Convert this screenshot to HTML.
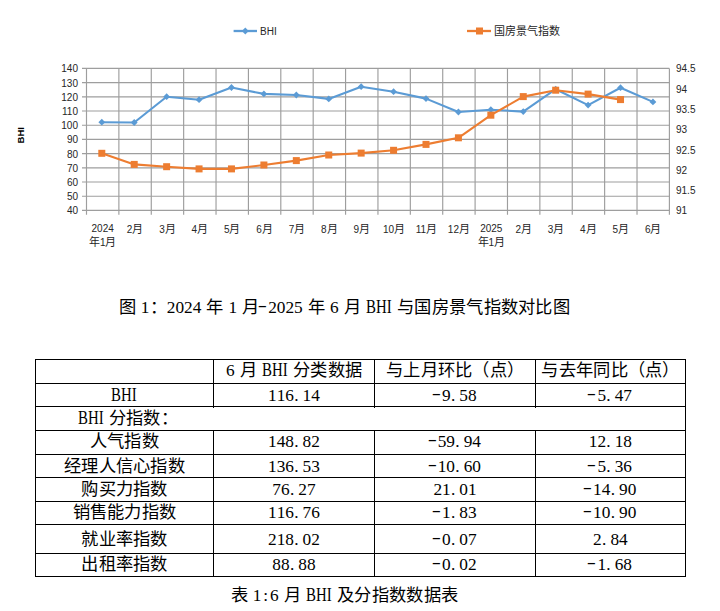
<!DOCTYPE html>
<html lang="zh-CN"><head><meta charset="utf-8">
<style>
html,body{margin:0;padding:0;background:#fff;}
body{width:720px;height:611px;position:relative;overflow:hidden;}
.al,.ar,.xl,.lg,.yt{position:absolute;font-family:"Liberation Sans",sans-serif;font-size:10px;color:#262626;line-height:12.5px;white-space:nowrap;}
.al{left:40px;width:38px;text-align:right;margin-top:1px;}
u{text-decoration:none;font-size:11px;}
.ar{left:676px;margin-top:1px;}
.xl{top:223px;width:50px;text-align:center;}
.lg{top:25px;}
.yt{font-weight:bold;color:#000;left:6px;top:129px;font-size:9.5px;width:30px;text-align:center;transform:rotate(-90deg);}
.title{position:absolute;left:118.5px;top:297.5px;font-family:"Liberation Serif",serif;font-size:17.3px;line-height:20px;white-space:nowrap;color:#000;}
.hl{position:absolute;left:35px;width:651px;height:1px;background:#000;}
.vl{position:absolute;width:1px;background:#000;}
.tc{position:absolute;text-align:center;font-family:"Liberation Serif",serif;font-size:17.3px;white-space:nowrap;color:#000;}
i{display:inline-block;font-style:normal;text-align:center;vertical-align:top;}
.z{font-weight:300;}
.w{display:inline-flex;justify-content:center;}
.w b{font-weight:normal;transform:scale(0.86,1.1);transform-origin:50% 68%;display:inline-block;}
.p{text-align:left;padding-left:0.3px;box-sizing:border-box;}
.h b{font-weight:normal;display:inline-block;transform:translate(-1.5px,-2px) scaleX(1.6);}
.d{}
.cap{position:absolute;left:230.5px;top:586px;font-family:"Liberation Serif",serif;font-size:17.3px;line-height:20px;white-space:nowrap;color:#000;}
</style></head><body>
<svg width="720" height="260" viewBox="0 0 720 260" style="position:absolute;left:0;top:0">
<path d="M82 68.40H669.40 M82 82.60H669.40 M82 96.80H669.40 M82 111.00H669.40 M82 125.20H669.40 M82 139.40H669.40 M82 153.60H669.40 M82 167.80H669.40 M82 182.00H669.40 M82 196.20H669.40 M82 210.40H669.40 M86.50 68.40V214.8 M118.88 68.40V214.8 M151.27 68.40V214.8 M183.65 68.40V214.8 M216.03 68.40V214.8 M248.42 68.40V214.8 M280.80 68.40V214.8 M313.18 68.40V214.8 M345.57 68.40V214.8 M377.95 68.40V214.8 M410.33 68.40V214.8 M442.72 68.40V214.8 M475.10 68.40V214.8 M507.48 68.40V214.8 M539.87 68.40V214.8 M572.25 68.40V214.8 M604.63 68.40V214.8 M637.02 68.40V214.8 M669.40 68.40V214.8" stroke="#9e9e9e" stroke-width="1.15" fill="none"/>
<polyline points="101.80,122.20 134.22,122.50 166.64,96.70 199.06,99.70 231.48,87.50 263.90,93.90 296.32,95.00 328.74,98.90 361.16,86.70 393.58,91.70 426.00,98.60 458.42,112.00 490.84,109.70 523.26,111.60 555.68,89.20 588.10,105.10 620.52,87.70 652.94,101.90" stroke="#5b9bd5" stroke-width="2.1" fill="none" stroke-linejoin="round" stroke-linecap="round"/>
<polyline points="101.80,153.30 134.22,164.40 166.64,166.70 199.06,168.90 231.48,168.90 263.90,165.00 296.32,160.60 328.74,155.00 361.16,153.10 393.58,150.30 426.00,144.40 458.42,137.80 490.84,115.20 523.26,96.60 555.68,90.20 588.10,94.10 620.52,99.60" stroke="#ed7d31" stroke-width="2.1" fill="none" stroke-linejoin="round" stroke-linecap="round"/>
<path d="M101.80 118.80L105.20 122.20L101.80 125.60L98.40 122.20Z" fill="#5b9bd5"/>
<path d="M134.22 119.10L137.62 122.50L134.22 125.90L130.82 122.50Z" fill="#5b9bd5"/>
<path d="M166.64 93.30L170.04 96.70L166.64 100.10L163.24 96.70Z" fill="#5b9bd5"/>
<path d="M199.06 96.30L202.46 99.70L199.06 103.10L195.66 99.70Z" fill="#5b9bd5"/>
<path d="M231.48 84.10L234.88 87.50L231.48 90.90L228.08 87.50Z" fill="#5b9bd5"/>
<path d="M263.90 90.50L267.30 93.90L263.90 97.30L260.50 93.90Z" fill="#5b9bd5"/>
<path d="M296.32 91.60L299.72 95.00L296.32 98.40L292.92 95.00Z" fill="#5b9bd5"/>
<path d="M328.74 95.50L332.14 98.90L328.74 102.30L325.34 98.90Z" fill="#5b9bd5"/>
<path d="M361.16 83.30L364.56 86.70L361.16 90.10L357.76 86.70Z" fill="#5b9bd5"/>
<path d="M393.58 88.30L396.98 91.70L393.58 95.10L390.18 91.70Z" fill="#5b9bd5"/>
<path d="M426.00 95.20L429.40 98.60L426.00 102.00L422.60 98.60Z" fill="#5b9bd5"/>
<path d="M458.42 108.60L461.82 112.00L458.42 115.40L455.02 112.00Z" fill="#5b9bd5"/>
<path d="M490.84 106.30L494.24 109.70L490.84 113.10L487.44 109.70Z" fill="#5b9bd5"/>
<path d="M523.26 108.20L526.66 111.60L523.26 115.00L519.86 111.60Z" fill="#5b9bd5"/>
<path d="M555.68 85.80L559.08 89.20L555.68 92.60L552.28 89.20Z" fill="#5b9bd5"/>
<path d="M588.10 101.70L591.50 105.10L588.10 108.50L584.70 105.10Z" fill="#5b9bd5"/>
<path d="M620.52 84.30L623.92 87.70L620.52 91.10L617.12 87.70Z" fill="#5b9bd5"/>
<path d="M652.94 98.50L656.34 101.90L652.94 105.30L649.54 101.90Z" fill="#5b9bd5"/>
<rect x="98.30" y="149.80" width="7.00" height="7.00" fill="#ed7d31"/>
<rect x="130.72" y="160.90" width="7.00" height="7.00" fill="#ed7d31"/>
<rect x="163.14" y="163.20" width="7.00" height="7.00" fill="#ed7d31"/>
<rect x="195.56" y="165.40" width="7.00" height="7.00" fill="#ed7d31"/>
<rect x="227.98" y="165.40" width="7.00" height="7.00" fill="#ed7d31"/>
<rect x="260.40" y="161.50" width="7.00" height="7.00" fill="#ed7d31"/>
<rect x="292.82" y="157.10" width="7.00" height="7.00" fill="#ed7d31"/>
<rect x="325.24" y="151.50" width="7.00" height="7.00" fill="#ed7d31"/>
<rect x="357.66" y="149.60" width="7.00" height="7.00" fill="#ed7d31"/>
<rect x="390.08" y="146.80" width="7.00" height="7.00" fill="#ed7d31"/>
<rect x="422.50" y="140.90" width="7.00" height="7.00" fill="#ed7d31"/>
<rect x="454.92" y="134.30" width="7.00" height="7.00" fill="#ed7d31"/>
<rect x="487.34" y="111.70" width="7.00" height="7.00" fill="#ed7d31"/>
<rect x="519.76" y="93.10" width="7.00" height="7.00" fill="#ed7d31"/>
<rect x="552.18" y="86.70" width="7.00" height="7.00" fill="#ed7d31"/>
<rect x="584.60" y="90.60" width="7.00" height="7.00" fill="#ed7d31"/>
<rect x="617.02" y="96.10" width="7.00" height="7.00" fill="#ed7d31"/>
<path d="M233.6 31H257" stroke="#5b9bd5" stroke-width="2.3"/>
<path d="M245.3 27.6L248.70000000000002 31L245.3 34.4L241.9 31Z" fill="#5b9bd5"/>
<path d="M467 31H491" stroke="#ed7d31" stroke-width="2.3"/>
<rect x="476.0" y="27.5" width="7.0" height="7.0" fill="#ed7d31"/>
</svg>
<div class="lg" style="left:260px;top:26px">BHI</div>
<div class="lg" style="left:493.5px;font-size:11px;top:24.5px">国房景气指数</div>
<div class="yt">BHI</div>
<div class="al" style="top:62.4px">140</div>
<div class="al" style="top:76.6px">130</div>
<div class="al" style="top:90.8px">120</div>
<div class="al" style="top:105.0px">110</div>
<div class="al" style="top:119.2px">100</div>
<div class="al" style="top:133.4px">90</div>
<div class="al" style="top:147.6px">80</div>
<div class="al" style="top:161.8px">70</div>
<div class="al" style="top:176.0px">60</div>
<div class="al" style="top:190.2px">50</div>
<div class="al" style="top:204.4px">40</div>
<div class="ar" style="top:62.4px">94.5</div>
<div class="ar" style="top:82.7px">94</div>
<div class="ar" style="top:103.0px">93.5</div>
<div class="ar" style="top:123.3px">93</div>
<div class="ar" style="top:143.5px">92.5</div>
<div class="ar" style="top:163.8px">92</div>
<div class="ar" style="top:184.1px">91.5</div>
<div class="ar" style="top:204.4px">91</div>
<div class="xl" style="left:77.7px">2024<br><u>年</u>1<u>月</u></div>
<div class="xl" style="left:110.1px">2<u>月</u></div>
<div class="xl" style="left:142.5px">3<u>月</u></div>
<div class="xl" style="left:174.8px">4<u>月</u></div>
<div class="xl" style="left:207.2px">5<u>月</u></div>
<div class="xl" style="left:239.6px">6<u>月</u></div>
<div class="xl" style="left:272.0px">7<u>月</u></div>
<div class="xl" style="left:304.4px">8<u>月</u></div>
<div class="xl" style="left:336.8px">9<u>月</u></div>
<div class="xl" style="left:369.1px">10<u>月</u></div>
<div class="xl" style="left:401.5px">11<u>月</u></div>
<div class="xl" style="left:433.9px">12<u>月</u></div>
<div class="xl" style="left:466.3px">2025<br><u>年</u>1<u>月</u></div>
<div class="xl" style="left:498.7px">2<u>月</u></div>
<div class="xl" style="left:531.1px">3<u>月</u></div>
<div class="xl" style="left:563.4px">4<u>月</u></div>
<div class="xl" style="left:595.8px">5<u>月</u></div>
<div class="xl" style="left:628.2px">6<u>月</u></div>
<div class="title"><i class="z" style="width:17.30px">图</i><i style="width:5.0px"></i><i class="d" style="width:8.65px">1</i><i class="z" style="width:17.30px">：</i><i class="d" style="width:8.65px">2</i><i class="d" style="width:8.65px">0</i><i class="d" style="width:8.65px">2</i><i class="d" style="width:8.65px">4</i><i style="width:5.0px"></i><i class="z" style="width:17.30px">年</i><i style="width:5.0px"></i><i class="d" style="width:8.65px">1</i><i style="width:5.0px"></i><i class="z" style="width:17.30px">月</i><i class="h" style="width:8.65px"><b>-</b></i><i class="d" style="width:8.65px">2</i><i class="d" style="width:8.65px">0</i><i class="d" style="width:8.65px">2</i><i class="d" style="width:8.65px">5</i><i style="width:5.0px"></i><i class="z" style="width:17.30px">年</i><i style="width:5.0px"></i><i class="d" style="width:8.65px">6</i><i style="width:5.0px"></i><i class="z" style="width:17.30px">月</i><i style="width:5.0px"></i><i class="w" style="width:25.95px"><b>BHI</b></i><i style="width:5.0px"></i><i class="z" style="width:17.30px">与</i><i class="z" style="width:17.30px">国</i><i class="z" style="width:17.30px">房</i><i class="z" style="width:17.30px">景</i><i class="z" style="width:17.30px">气</i><i class="z" style="width:17.30px">指</i><i class="z" style="width:17.30px">数</i><i class="z" style="width:17.30px">对</i><i class="z" style="width:17.30px">比</i><i class="z" style="width:17.30px">图</i></div>
<div class="hl" style="top:359px"></div>
<div class="hl" style="top:383px"></div>
<div class="hl" style="top:406px"></div>
<div class="hl" style="top:430px"></div>
<div class="hl" style="top:454px"></div>
<div class="hl" style="top:477px"></div>
<div class="hl" style="top:501px"></div>
<div class="hl" style="top:524px"></div>
<div class="hl" style="top:553px"></div>
<div class="hl" style="top:576px"></div>
<div class="vl" style="left:35px;top:359px;height:218px"></div>
<div class="vl" style="left:213px;top:359px;height:49px"></div>
<div class="vl" style="left:213px;top:430px;height:147px"></div>
<div class="vl" style="left:374px;top:359px;height:49px"></div>
<div class="vl" style="left:374px;top:430px;height:147px"></div>
<div class="vl" style="left:535px;top:359px;height:49px"></div>
<div class="vl" style="left:535px;top:430px;height:147px"></div>
<div class="vl" style="left:685px;top:359px;height:218px"></div>
<div class="tc" style="left:213.3px;width:161.3px;top:359.3px;height:24.2px;line-height:24.2px"><i class="d" style="width:8.65px">6</i><i style="width:5.0px"></i><i class="z" style="width:17.30px">月</i><i style="width:5.0px"></i><i class="w" style="width:25.95px"><b>BHI</b></i><i style="width:5.0px"></i><i class="z" style="width:17.30px">分</i><i class="z" style="width:17.30px">类</i><i class="z" style="width:17.30px">数</i><i class="z" style="width:17.30px">据</i></div>
<div class="tc" style="left:374.6px;width:160.8px;top:359.3px;height:24.2px;line-height:24.2px"><i class="z" style="width:17.30px">与</i><i class="z" style="width:17.30px">上</i><i class="z" style="width:17.30px">月</i><i class="z" style="width:17.30px">环</i><i class="z" style="width:17.30px">比</i><i class="z" style="width:17.30px">（</i><i class="z" style="width:17.30px">点</i><i class="z" style="width:17.30px">）</i></div>
<div class="tc" style="left:535.4px;width:150.0px;top:359.3px;height:24.2px;line-height:24.2px"><i class="z" style="width:17.30px">与</i><i class="z" style="width:17.30px">去</i><i class="z" style="width:17.30px">年</i><i class="z" style="width:17.30px">同</i><i class="z" style="width:17.30px">比</i><i class="z" style="width:17.30px">（</i><i class="z" style="width:17.30px">点</i><i class="z" style="width:17.30px">）</i></div>
<div class="tc" style="left:35.4px;width:177.9px;top:383.5px;height:23.2px;line-height:23.2px"><i class="w" style="width:25.95px"><b>BHI</b></i></div>
<div class="tc" style="left:213.3px;width:161.3px;top:383.5px;height:23.2px;line-height:23.2px"><i class="d" style="width:8.65px">1</i><i class="d" style="width:8.65px">1</i><i class="d" style="width:8.65px">6</i><i class="p" style="width:8.65px">.</i><i class="d" style="width:8.65px">1</i><i class="d" style="width:8.65px">4</i></div>
<div class="tc" style="left:374.6px;width:160.8px;top:383.5px;height:23.2px;line-height:23.2px"><i class="h" style="width:8.65px"><b>-</b></i><i class="d" style="width:8.65px">9</i><i class="p" style="width:8.65px">.</i><i class="d" style="width:8.65px">5</i><i class="d" style="width:8.65px">8</i></div>
<div class="tc" style="left:535.4px;width:150.0px;top:383.5px;height:23.2px;line-height:23.2px"><i class="h" style="width:8.65px"><b>-</b></i><i class="d" style="width:8.65px">5</i><i class="p" style="width:8.65px">.</i><i class="d" style="width:8.65px">4</i><i class="d" style="width:8.65px">7</i></div>
<div class="tc" style="left:38.8px;width:177.9px;top:406.7px;height:23.5px;line-height:23.5px"><i class="w" style="width:25.95px"><b>BHI</b></i><i style="width:5.0px"></i><i class="z" style="width:17.30px">分</i><i class="z" style="width:17.30px">指</i><i class="z" style="width:17.30px">数</i><i class="z" style="width:17.30px">：</i></div>
<div class="tc" style="left:35.4px;width:177.9px;top:430.2px;height:24.3px;line-height:24.3px"><i class="z" style="width:17.30px">人</i><i class="z" style="width:17.30px">气</i><i class="z" style="width:17.30px">指</i><i class="z" style="width:17.30px">数</i></div>
<div class="tc" style="left:213.3px;width:161.3px;top:430.2px;height:24.3px;line-height:24.3px"><i class="d" style="width:8.65px">1</i><i class="d" style="width:8.65px">4</i><i class="d" style="width:8.65px">8</i><i class="p" style="width:8.65px">.</i><i class="d" style="width:8.65px">8</i><i class="d" style="width:8.65px">2</i></div>
<div class="tc" style="left:374.6px;width:160.8px;top:430.2px;height:24.3px;line-height:24.3px"><i class="h" style="width:8.65px"><b>-</b></i><i class="d" style="width:8.65px">5</i><i class="d" style="width:8.65px">9</i><i class="p" style="width:8.65px">.</i><i class="d" style="width:8.65px">9</i><i class="d" style="width:8.65px">4</i></div>
<div class="tc" style="left:535.4px;width:150.0px;top:430.2px;height:24.3px;line-height:24.3px"><i class="d" style="width:8.65px">1</i><i class="d" style="width:8.65px">2</i><i class="p" style="width:8.65px">.</i><i class="d" style="width:8.65px">1</i><i class="d" style="width:8.65px">8</i></div>
<div class="tc" style="left:35.4px;width:177.9px;top:454.5px;height:23.0px;line-height:23.0px"><i class="z" style="width:17.30px">经</i><i class="z" style="width:17.30px">理</i><i class="z" style="width:17.30px">人</i><i class="z" style="width:17.30px">信</i><i class="z" style="width:17.30px">心</i><i class="z" style="width:17.30px">指</i><i class="z" style="width:17.30px">数</i></div>
<div class="tc" style="left:213.3px;width:161.3px;top:454.5px;height:23.0px;line-height:23.0px"><i class="d" style="width:8.65px">1</i><i class="d" style="width:8.65px">3</i><i class="d" style="width:8.65px">6</i><i class="p" style="width:8.65px">.</i><i class="d" style="width:8.65px">5</i><i class="d" style="width:8.65px">3</i></div>
<div class="tc" style="left:374.6px;width:160.8px;top:454.5px;height:23.0px;line-height:23.0px"><i class="h" style="width:8.65px"><b>-</b></i><i class="d" style="width:8.65px">1</i><i class="d" style="width:8.65px">0</i><i class="p" style="width:8.65px">.</i><i class="d" style="width:8.65px">6</i><i class="d" style="width:8.65px">0</i></div>
<div class="tc" style="left:535.4px;width:150.0px;top:454.5px;height:23.0px;line-height:23.0px"><i class="h" style="width:8.65px"><b>-</b></i><i class="d" style="width:8.65px">5</i><i class="p" style="width:8.65px">.</i><i class="d" style="width:8.65px">3</i><i class="d" style="width:8.65px">6</i></div>
<div class="tc" style="left:35.4px;width:177.9px;top:477.5px;height:23.8px;line-height:23.8px"><i class="z" style="width:17.30px">购</i><i class="z" style="width:17.30px">买</i><i class="z" style="width:17.30px">力</i><i class="z" style="width:17.30px">指</i><i class="z" style="width:17.30px">数</i></div>
<div class="tc" style="left:213.3px;width:161.3px;top:477.5px;height:23.8px;line-height:23.8px"><i class="d" style="width:8.65px">7</i><i class="d" style="width:8.65px">6</i><i class="p" style="width:8.65px">.</i><i class="d" style="width:8.65px">2</i><i class="d" style="width:8.65px">7</i></div>
<div class="tc" style="left:374.6px;width:160.8px;top:477.5px;height:23.8px;line-height:23.8px"><i class="d" style="width:8.65px">2</i><i class="d" style="width:8.65px">1</i><i class="p" style="width:8.65px">.</i><i class="d" style="width:8.65px">0</i><i class="d" style="width:8.65px">1</i></div>
<div class="tc" style="left:535.4px;width:150.0px;top:477.5px;height:23.8px;line-height:23.8px"><i class="h" style="width:8.65px"><b>-</b></i><i class="d" style="width:8.65px">1</i><i class="d" style="width:8.65px">4</i><i class="p" style="width:8.65px">.</i><i class="d" style="width:8.65px">9</i><i class="d" style="width:8.65px">0</i></div>
<div class="tc" style="left:35.4px;width:177.9px;top:501.3px;height:23.2px;line-height:23.2px"><i class="z" style="width:17.30px">销</i><i class="z" style="width:17.30px">售</i><i class="z" style="width:17.30px">能</i><i class="z" style="width:17.30px">力</i><i class="z" style="width:17.30px">指</i><i class="z" style="width:17.30px">数</i></div>
<div class="tc" style="left:213.3px;width:161.3px;top:501.3px;height:23.2px;line-height:23.2px"><i class="d" style="width:8.65px">1</i><i class="d" style="width:8.65px">1</i><i class="d" style="width:8.65px">6</i><i class="p" style="width:8.65px">.</i><i class="d" style="width:8.65px">7</i><i class="d" style="width:8.65px">6</i></div>
<div class="tc" style="left:374.6px;width:160.8px;top:501.3px;height:23.2px;line-height:23.2px"><i class="h" style="width:8.65px"><b>-</b></i><i class="d" style="width:8.65px">1</i><i class="p" style="width:8.65px">.</i><i class="d" style="width:8.65px">8</i><i class="d" style="width:8.65px">3</i></div>
<div class="tc" style="left:535.4px;width:150.0px;top:501.3px;height:23.2px;line-height:23.2px"><i class="h" style="width:8.65px"><b>-</b></i><i class="d" style="width:8.65px">1</i><i class="d" style="width:8.65px">0</i><i class="p" style="width:8.65px">.</i><i class="d" style="width:8.65px">9</i><i class="d" style="width:8.65px">0</i></div>
<div class="tc" style="left:35.4px;width:177.9px;top:524.5px;height:29.0px;line-height:29.0px"><i class="z" style="width:17.30px">就</i><i class="z" style="width:17.30px">业</i><i class="z" style="width:17.30px">率</i><i class="z" style="width:17.30px">指</i><i class="z" style="width:17.30px">数</i></div>
<div class="tc" style="left:213.3px;width:161.3px;top:524.5px;height:29.0px;line-height:29.0px"><i class="d" style="width:8.65px">2</i><i class="d" style="width:8.65px">1</i><i class="d" style="width:8.65px">8</i><i class="p" style="width:8.65px">.</i><i class="d" style="width:8.65px">0</i><i class="d" style="width:8.65px">2</i></div>
<div class="tc" style="left:374.6px;width:160.8px;top:524.5px;height:29.0px;line-height:29.0px"><i class="h" style="width:8.65px"><b>-</b></i><i class="d" style="width:8.65px">0</i><i class="p" style="width:8.65px">.</i><i class="d" style="width:8.65px">0</i><i class="d" style="width:8.65px">7</i></div>
<div class="tc" style="left:535.4px;width:150.0px;top:524.5px;height:29.0px;line-height:29.0px"><i class="d" style="width:8.65px">2</i><i class="p" style="width:8.65px">.</i><i class="d" style="width:8.65px">8</i><i class="d" style="width:8.65px">4</i></div>
<div class="tc" style="left:35.4px;width:177.9px;top:553.5px;height:22.5px;line-height:22.5px"><i class="z" style="width:17.30px">出</i><i class="z" style="width:17.30px">租</i><i class="z" style="width:17.30px">率</i><i class="z" style="width:17.30px">指</i><i class="z" style="width:17.30px">数</i></div>
<div class="tc" style="left:213.3px;width:161.3px;top:553.5px;height:22.5px;line-height:22.5px"><i class="d" style="width:8.65px">8</i><i class="d" style="width:8.65px">8</i><i class="p" style="width:8.65px">.</i><i class="d" style="width:8.65px">8</i><i class="d" style="width:8.65px">8</i></div>
<div class="tc" style="left:374.6px;width:160.8px;top:553.5px;height:22.5px;line-height:22.5px"><i class="h" style="width:8.65px"><b>-</b></i><i class="d" style="width:8.65px">0</i><i class="p" style="width:8.65px">.</i><i class="d" style="width:8.65px">0</i><i class="d" style="width:8.65px">2</i></div>
<div class="tc" style="left:535.4px;width:150.0px;top:553.5px;height:22.5px;line-height:22.5px"><i class="h" style="width:8.65px"><b>-</b></i><i class="d" style="width:8.65px">1</i><i class="p" style="width:8.65px">.</i><i class="d" style="width:8.65px">6</i><i class="d" style="width:8.65px">8</i></div>
<div class="cap"><i class="z" style="width:17.30px">表</i><i style="width:5.0px"></i><i class="d" style="width:8.65px">1</i><i style="width:8.65px">:</i><i class="d" style="width:8.65px">6</i><i style="width:5.0px"></i><i class="z" style="width:17.30px">月</i><i style="width:5.0px"></i><i class="w" style="width:25.95px"><b>BHI</b></i><i style="width:5.0px"></i><i class="z" style="width:17.30px">及</i><i class="z" style="width:17.30px">分</i><i class="z" style="width:17.30px">指</i><i class="z" style="width:17.30px">数</i><i class="z" style="width:17.30px">数</i><i class="z" style="width:17.30px">据</i><i class="z" style="width:17.30px">表</i></div>
</body></html>
